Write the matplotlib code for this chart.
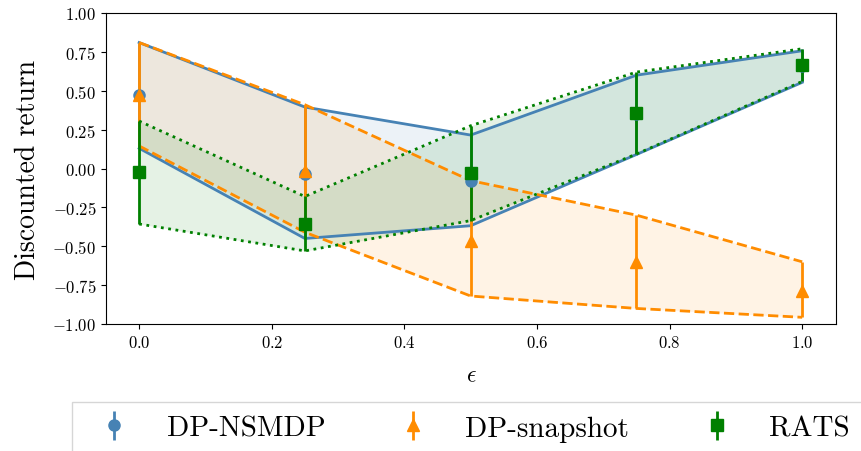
import matplotlib
matplotlib.use("Agg")
import matplotlib.pyplot as plt
import numpy as np

plt.rcParams['font.family'] = 'serif'
plt.rcParams['font.serif'] = ['cmr10']
plt.rcParams['mathtext.fontset'] = 'cm'
plt.rcParams['axes.formatter.use_mathtext'] = True
plt.rcParams['axes.unicode_minus'] = True

eps = [0.0, 0.25, 0.5, 0.75, 1.0]

nsmdp_mean = [0.47, -0.035, -0.08, 0.35, 0.66]
nsmdp_upper = [0.81, 0.395, 0.215, 0.60, 0.757]
nsmdp_lower = [0.13, -0.45, -0.368, 0.09, 0.554]

snap_mean = [0.47, -0.014, -0.464, -0.60, -0.786]
snap_upper = [0.81, 0.41, -0.078, -0.30, -0.60]
snap_lower = [0.145, -0.41, -0.82, -0.90, -0.957]

rats_mean = [-0.02, -0.357, -0.03, 0.355, 0.668]
rats_upper = [0.305, -0.18, 0.275, 0.62, 0.77]
rats_lower = [-0.357, -0.53, -0.335, 0.093, 0.56]

labels = ['DP-NSMDP', 'DP-snapshot', 'RATS']
colors = ['steelblue', 'darkorange', 'green']
markers = ['o', '^', 's']
styles = ['-', '--', ':']

fig = plt.figure(figsize=(8.61, 4.52), dpi=100)
ax = fig.add_axes([106/861, 1-325/452, (836-106)/861, (325-14)/452])

series = [(nsmdp_mean, nsmdp_lower, nsmdp_upper),
          (snap_mean, snap_lower, snap_upper),
          (rats_mean, rats_lower, rats_upper)]
x = np.array(eps)
handles = []
for (m, lo, up), c, mk, ls, lab in zip(series, colors, markers, styles, labels):
    m = np.array(m); lo = np.array(lo); up = np.array(up)
    ax.fill_between(x, lo, up, color=c, alpha=0.1, linewidth=0)
    ax.plot(x, up, color=c, ls=ls, lw=2)
    ax.plot(x, lo, color=c, ls=ls, lw=2)
    h = ax.errorbar(x, m, yerr=[m - lo, up - m], color=c, marker=mk, ms=8,
                    lw=2, capsize=0, ls='none', label=lab)
    handles.append(h)

ax.set_xlim(-0.05, 1.051)
ax.set_ylim(-1.0, 1.0)
ax.set_yticks(np.arange(-1.0, 1.01, 0.25))
ax.yaxis.set_major_formatter(matplotlib.ticker.FormatStrFormatter('$%.2f$'))
ax.xaxis.set_major_formatter(matplotlib.ticker.FormatStrFormatter('$%.1f$'))
ax.tick_params(labelsize=12)
ax.set_ylabel('Discounted return', fontsize=20, labelpad=8)
ax.set_xlabel(r'$\epsilon$', fontsize=17, labelpad=10)

fig.legend(handles=handles, labels=labels, loc='upper left',
           bbox_to_anchor=(72/861, 1-403/452), borderaxespad=0, ncol=3, fontsize=21,
           fancybox=False, handlelength=2, columnspacing=2.0, borderpad=0.45,
           handletextpad=0.8)

fig.savefig('out.png', dpi=100)
